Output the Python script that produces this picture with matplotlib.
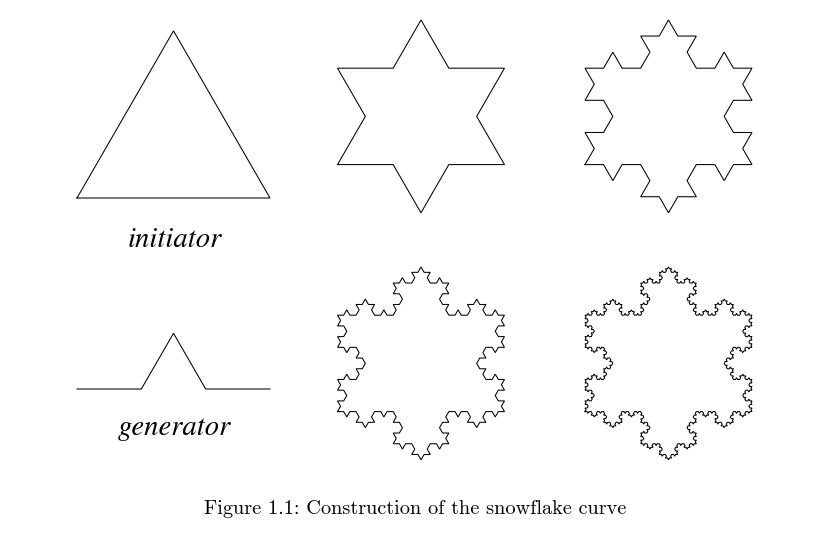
import numpy as np
import matplotlib
matplotlib.use("Agg")
import matplotlib.pyplot as plt

# shapes in unit coordinates (x right, y up)
initiator = np.array([[0.0, 0.0], [0.5, np.sqrt(3) / 2], [1.0, 0.0], [0.0, 0.0]])
generator = np.array([[0.0, 0.0], [1 / 3, 0.0], [0.5, np.sqrt(3) / 6], [2 / 3, 0.0], [1.0, 0.0]])
levels = [1, 2, 3, 4]
labels = ["initiator", "generator"]
caption = "Figure 1.1: Construction of the snowflake curve"


def apply_generator(points):
    """Replace every segment of the polyline by a scaled copy of the generator."""
    out = [points[0]]
    for p, q in zip(points[:-1], points[1:]):
        d = q - p
        n = np.array([-d[1], d[0]])  # left normal -> outside for clockwise order
        for u, v in generator[1:]:
            out.append(p + u * d + v * n)
    return np.array(out)


def koch(level):
    pts = initiator.copy()
    for _ in range(level):
        pts = apply_generator(pts)
    return pts


def place(pts, x0, y0, size):
    # unit shape -> pixel-like coordinates (y down), origin at left end of base
    return x0 + pts[:, 0] * size, y0 - pts[:, 1] * size


fig = plt.figure(figsize=(8.14, 5.41), dpi=100)
ax = fig.add_axes([0, 0, 1, 1])
ax.set_xlim(0, 814)
ax.set_ylim(541, 0)
ax.set_aspect("equal")
ax.axis("off")

lw = 0.75

# initiator and generator on the left
x, y = place(initiator, 77, 198, 193)
ax.plot(x, y, color="black", lw=lw, solid_joinstyle="miter")
x, y = place(generator, 77, 389, 193)
ax.plot(x, y, color="black", lw=lw)

label_font = dict(family=["STIXGeneral", "DejaVu Serif"], style="italic", fontsize=20.6)
ax.text(174.5, 240, labels[0], ha="center", va="center", **label_font)
ax.text(174, 428, labels[1], ha="center", va="center", **label_font)

# snowflake stages: (left of base, base y) for a triangle of side 167
side = 167
spots = [(337.5, 164.6), (585, 164.6), (337.5, 411.6), (585, 411.6)]
for lev, (bx, by) in zip(levels, spots):
    x, y = place(koch(lev), bx, by, side)
    ax.plot(x, y, color="black", lw=lw, solid_joinstyle="miter")

ax.text(415.5, 508.5, caption, ha="center", va="center", fontname="cmr10", fontsize=14.6)

fig.savefig("out.png", dpi=100)
